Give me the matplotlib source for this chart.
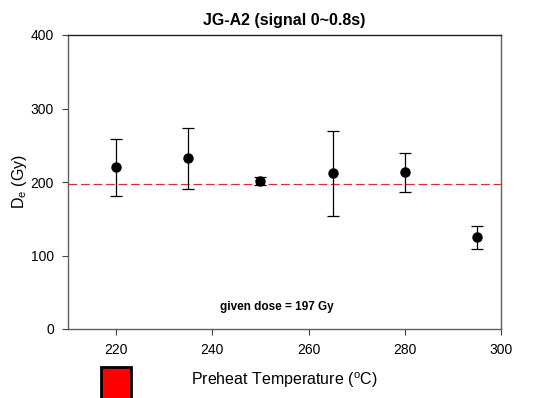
import matplotlib.pyplot as plt
from matplotlib.patches import Rectangle

plt.rcParams['font.family'] = ['Liberation Sans', 'DejaVu Sans']
plt.rcParams['mathtext.fontset'] = 'custom'
plt.rcParams['mathtext.rm'] = 'Liberation Sans'

# Data
temps = [220, 235, 250, 265, 280, 295]
de = [220, 232, 202, 212, 213, 125]
err_low = [39, 42, 6, 58, 26, 16]
err_high = [38, 41, 5, 57, 26, 15]
given_dose = 197

fig = plt.figure(figsize=(5.33, 3.98), dpi=100)
ax = fig.add_axes([68 / 533, 1 - 329 / 398, (501 - 68) / 533, (329 - 35) / 398])

ax.axhline(given_dose, color='#d83030', linestyle=(0, (7, 3)), linewidth=0.9, zorder=1)
ax.errorbar(temps, de, yerr=[err_low, err_high], fmt='o', color='black',
            markersize=6.5, capsize=4, elinewidth=0.9, capthick=0.9, zorder=3)

ax.set_xlim(210, 300)
ax.set_ylim(0, 400)
ax.set_xticks([220, 240, 260, 280, 300])
ax.set_yticks([0, 100, 200, 300, 400])
ax.tick_params(direction='out', length=4, width=0.8, labelsize=10, color='#404040', pad=6)
for sp in ax.spines.values():
    sp.set_color('#606060')
    sp.set_linewidth(1.0)
ax.spines['top'].set_color('#202020')

ax.set_title('JG-A2 (signal 0~0.8s)', fontsize=11.5, fontweight='bold', pad=7)
ax.set_xlabel(r'Preheat Temperature ($^\mathregular{o}$C)', fontsize=11.5, labelpad=10)
ax.set_ylabel(r'D$_\mathregular{e}$ (Gy)', fontsize=11.5, labelpad=1)
ax.text(253.5, 30, 'given dose = 197 Gy', fontsize=8.5, fontweight='bold',
        ha='center', va='center')

# clipped red legend box at bottom left
fig.patches.append(Rectangle((101 / 533, -0.02), 30 / 533, (398 - 367) / 398 + 0.02,
                             transform=fig.transFigure, facecolor='red',
                             edgecolor='black', linewidth=2))

fig.savefig('out.png', dpi=100)
